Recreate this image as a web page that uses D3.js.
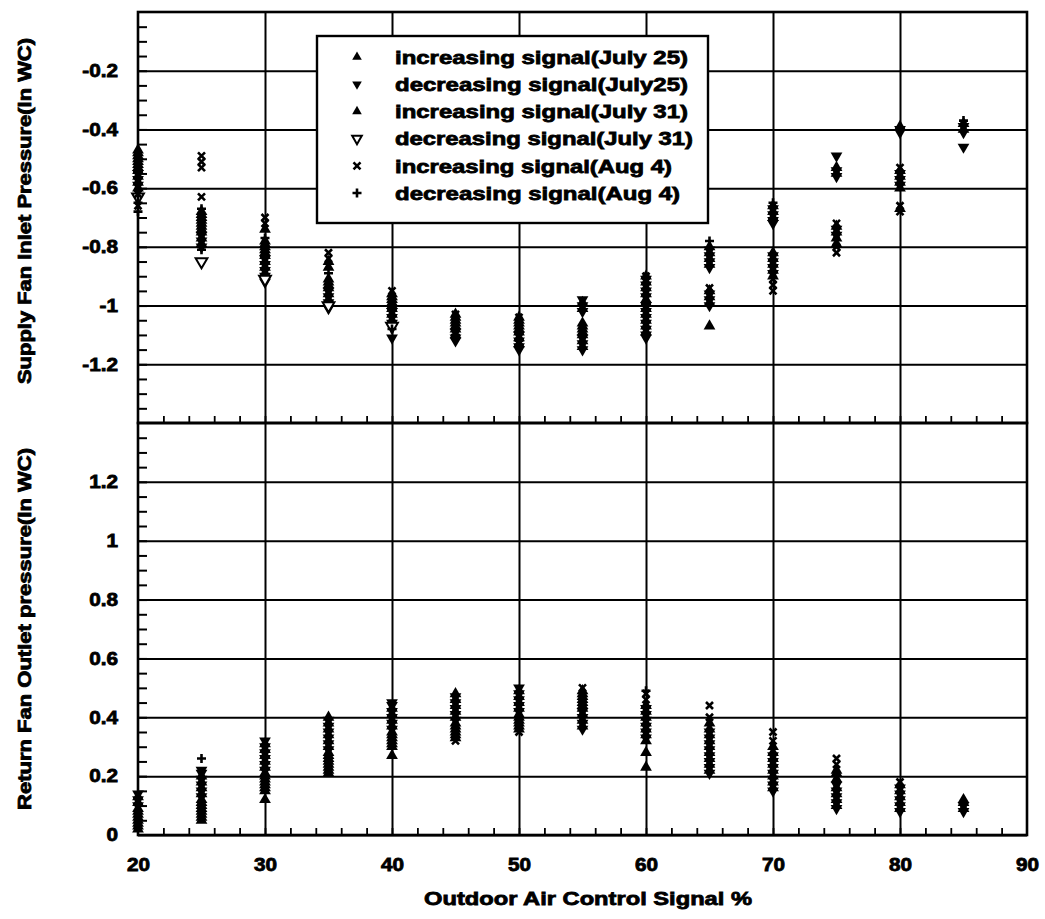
<!DOCTYPE html>
<html>
<head>
<meta charset="utf-8">
<script src="https://cdn.jsdelivr.net/npm/d3@7"></script>
<style>
  body { margin: 0; background: #fff; }
  svg { display: block; }
  text { font-family: Arial, "Liberation Sans", sans-serif; font-weight: bold; fill: #000; }
</style>
</head>
<body>
<script>
// signal levels (x) and the readings per series, one list per signal level
const signals = [20, 25, 30, 35, 40, 45, 50, 55, 60, 65, 70, 75, 80, 85];
const xTicks = [20, 30, 40, 50, 60, 70, 80, 90];
const supplyTicks = [-0.2, -0.4, -0.6, -0.8, -1, -1.2];
const returnTicks = [0, 0.2, 0.4, 0.6, 0.8, 1, 1.2];

const seriesNames = [
  'increasing signal(July 25)',
  'decreasing signal(July25)',
  'increasing signal(July 31)',
  'decreasing signal(July 31)',
  'increasing signal(Aug 4)',
  'decreasing signal(Aug 4)'
];

// Supply fan inlet pressure (upper panel)
const supplyIncJul25 = [[-0.47,-0.49,-0.51,-0.53],[-0.68,-0.70,-0.72,-0.74],[-0.74,-0.78,-0.80,-0.82],[-0.85,-0.87,-0.91,-0.93],[-0.96,-0.98,-1.00],[-1.03,-1.05,-1.07],[-1.04,-1.06,-1.08],[-0.99,-1.01,-1.07,-1.09],[-0.90,-0.92,-0.94,-0.96,-0.98],[-0.80,-0.82,-0.84,-0.86],[-0.66,-0.68,-0.70],[-0.53,-0.55,-0.73,-0.75,-0.77],[-0.39,-0.54,-0.56,-0.58,-0.60],[-0.38,-0.40]];
const supplyDecJul25 = [[-0.55,-0.57,-0.59],[-0.76,-0.78,-0.80],[-0.84,-0.86,-0.88,-0.90,-0.92],[-0.95,-0.97,-0.99,-1.01],[-1.02,-1.04,-1.06,-1.11],[-1.09,-1.11,-1.12],[-1.10,-1.12,-1.14,-1.15],[-0.98,-1.00,-1.02,-1.11,-1.13,-1.15],[-0.91,-0.93,-0.95,-0.97,-1.00,-1.02,-1.04,-1.06,-1.08,-1.10,-1.11],[-0.81,-0.83,-0.85,-0.87,-0.96,-0.98,-1.00],[-0.67,-0.69,-0.71,-0.72,-0.83,-0.85,-0.87,-0.89],[-0.49,-0.54,-0.56,-0.74,-0.76],[-0.40,-0.41,-0.55,-0.57,-0.59],[-0.39,-0.41,-0.46]];
const supplyIncJul31 = [[-0.48,-0.50,-0.52,-0.54,-0.56,-0.58,-0.60],[-0.69,-0.71,-0.73,-0.75,-0.77,-0.79],[-0.79,-0.81,-0.83,-0.85,-0.87,-0.89],[-0.92,-0.94,-0.96,-0.98],[-0.97,-0.99,-1.01,-1.03,-1.05],[-1.04,-1.06,-1.08,-1.10],[-1.05,-1.07,-1.09,-1.11,-1.13],[-1.06,-1.08,-1.10,-1.12,-1.14],[-0.99,-1.01,-1.03,-1.05,-1.07,-1.09],[-0.95,-0.97,-0.99,-1.07],[-0.82,-0.84,-0.86,-0.88,-0.90],[-0.79],[-0.67],[]];
const supplyDecJul31 = [[-0.63],[-0.85],[-0.91],[-1.00],[-1.07],[],[],[],[],[],[],[],[],[]];
const supplyIncAug4 = [[-0.62,-0.66],[-0.49,-0.51,-0.53,-0.63],[-0.70,-0.72],[-0.82,-0.84],[-0.95],[-1.03],[-1.04],[],[-0.90],[-0.94],[-0.91,-0.93,-0.95],[-0.72,-0.80,-0.82],[-0.53,-0.66,-0.68],[]];
const supplyDecAug4 = [[-0.65,-0.68],[-0.67,-0.81],[-0.77],[-0.89],[-1.08],[-1.10],[-1.12],[-1.10],[-0.99],[-0.78],[-0.65],[],[],[-0.37]];

// Return fan outlet pressure (lower panel)
const returnIncJul25 = [[0.02,0.04,0.06,0.08],[0.05,0.07,0.09,0.11],[0.12,0.16,0.18,0.20],[0.21,0.23,0.25,0.27],[0.27,0.30,0.32,0.34],[0.33,0.35,0.37],[0.36,0.38,0.40],[0.44,0.46,0.48],[0.23,0.28],[0.36,0.38],[0.28,0.30],[0.19,0.21,0.22],[],[0.09,0.11,0.12]];
const returnDecJul25 = [[0.10,0.12,0.14],[0.13,0.15,0.17,0.19,0.21,0.22],[0.22,0.24,0.26,0.28,0.30,0.32],[0.29,0.31,0.33,0.35,0.37,0.39],[0.36,0.38,0.40,0.42,0.44,0.45],[0.39,0.41,0.43,0.45,0.47],[0.42,0.44,0.46,0.48,0.50],[0.36,0.38,0.40,0.42],[0.33,0.35,0.37,0.39,0.41,0.43],[0.21,0.23,0.25,0.27,0.29,0.31,0.33,0.35],[0.15,0.17,0.19,0.21,0.23,0.25,0.27],[0.09,0.11,0.13,0.15,0.17],[0.08,0.10,0.12,0.14,0.16],[0.08,0.10]];
const returnIncJul31 = [[0.03,0.05,0.07,0.09,0.11,0.13],[0.06,0.08,0.10,0.12,0.14,0.16,0.18,0.20],[0.15,0.17,0.19,0.21,0.23,0.25,0.27,0.29,0.31],[0.22,0.24,0.26,0.28,0.30,0.32,0.34,0.36,0.38,0.40],[0.31,0.33,0.35,0.37,0.39,0.41,0.43],[0.34,0.36,0.38,0.40,0.42,0.44,0.46,0.48],[0.37,0.39,0.41,0.43,0.45,0.47,0.49],[0.37,0.39,0.41,0.43,0.45,0.47,0.49],[0.32,0.34,0.36,0.38,0.40,0.42,0.44],[0.22,0.24,0.26,0.28,0.30,0.32,0.34],[0.16,0.18,0.20,0.22,0.24,0.26],[0.10,0.12,0.14,0.16],[0.09,0.11,0.13,0.15,0.17],[]];
const returnDecJul31 = [[],[],[],[],[],[],[],[],[],[],[],[],[],[]];
const returnIncAug4 = [[],[],[],[],[],[0.32],[0.35],[0.50],[0.46,0.48],[0.40,0.44],[0.32,0.35],[0.24,0.26],[0.18],[]];
const returnDecAug4 = [[],[0.26],[],[],[],[],[],[],[0.49],[],[],[],[],[]];

const supplySeries = [supplyIncJul25, supplyDecJul25, supplyIncJul31, supplyDecJul31, supplyIncAug4, supplyDecAug4];
const returnSeries = [returnIncJul25, returnDecJul25, returnIncJul31, returnDecJul31, returnIncAug4, returnDecAug4];

const width = 1045, height = 919;
const svg = d3.select('body').append('svg')
  .attr('width', width)
  .attr('height', height);

const x = d3.scaleLinear().domain([20, 90]).range([138, 1027]);
const yTop = d3.scaleLinear().domain([-1.4, 0]).range([423, 12]);
const yBot = d3.scaleLinear().domain([0, 1.4]).range([835, 423]);

const fmt = d => String(+d.toFixed(1)); // plain hyphen minus, like the original

// the scanned original has heavy, wide lettering: thicken with a stroke and stretch
function heavy(sel, stretch) {
  sel.attr('stroke', '#000').attr('stroke-width', 0.8);
  if (stretch) {
    sel.each(function () {
      const w = this.getComputedTextLength();
      d3.select(this).attr('textLength', w * stretch).attr('lengthAdjust', 'spacingAndGlyphs');
    });
  }
}

// marker shapes: 0 up-filled, 1 down-filled, 2 up-filled, 3 down-open, 4 x, 5 +
function marker(sel, i, big) {
  const tri = d3.symbol().type(d3.symbolTriangle).size(big ? 60 : 40)();
  if (i === 0 || i === 2) {
    sel.append('path').attr('d', tri).attr('fill', '#000');
  } else if (i === 1) {
    sel.append('path').attr('d', tri).attr('transform', 'rotate(180)').attr('fill', '#000');
  } else if (i === 3) {
    sel.append('path').attr('d', tri).attr('transform', 'rotate(180)')
      .attr('fill', '#fff').attr('stroke', '#000').attr('stroke-width', 2);
  } else if (i === 4) {
    sel.append('path').attr('d', 'M-3.5,-3.5L3.5,3.5M-3.5,3.5L3.5,-3.5')
      .attr('stroke', '#000').attr('stroke-width', 2.6);
  } else {
    sel.append('path').attr('d', 'M-4.5,0L4.5,0M0,-4.5L0,4.5')
      .attr('stroke', '#000').attr('stroke-width', 2.6);
  }
}

function styleText(a, size) {
  a.selectAll('text')
    .attr('font-size', size)
    .attr('font-family', 'Arial, "Liberation Sans", sans-serif')
    .attr('fill', '#000')
    .call(t => heavy(t, 1.15));
}

function panel(y, yMin, yMax, majors, series, showX) {
  const g = svg.append('g');
  const x0 = x.range()[0], x1 = x.range()[1];

  // horizontal grid
  g.append('g')
    .attr('transform', `translate(${x0},0)`)
    .call(d3.axisLeft(y).tickValues(majors).tickSize(-(x1 - x0)).tickFormat(''))
    .call(a => a.select('.domain').remove())
    .call(a => a.selectAll('line').attr('stroke', '#000').attr('stroke-width', 2));

  // vertical grid
  g.append('g')
    .attr('transform', `translate(0,${y.range()[0]})`)
    .call(d3.axisBottom(x).tickValues([30, 40, 50, 60, 70, 80]).tickSize(-(y.range()[0] - y.range()[1])).tickFormat(''))
    .call(a => a.select('.domain').remove())
    .call(a => a.selectAll('line').attr('stroke', '#000').attr('stroke-width', 2));

  // minor ticks on y
  const yMinor = d3.range(Math.round(yMin * 20) + 1, Math.round(yMax * 20)).map(v => v / 20);
  g.append('g')
    .attr('transform', `translate(${x0},0)`)
    .call(d3.axisLeft(y).tickValues(yMinor).tickSize(-9).tickFormat(''))
    .call(a => a.select('.domain').remove())
    .call(a => a.selectAll('line').attr('stroke', '#000').attr('stroke-width', 2));

  // minor ticks on x
  g.append('g')
    .attr('transform', `translate(0,${y.range()[0]})`)
    .call(d3.axisBottom(x).tickValues(d3.range(22, 90, 2)).tickSize(-7).tickFormat(''))
    .call(a => a.select('.domain').remove())
    .call(a => a.selectAll('line').attr('stroke', '#000').attr('stroke-width', 1.8));

  // tick labels
  g.append('g')
    .attr('transform', `translate(${x0},0)`)
    .call(d3.axisLeft(y).tickValues(majors).tickSize(0).tickPadding(20).tickFormat(fmt))
    .call(a => a.select('.domain').remove())
    .call(a => styleText(a, 18));

  if (showX) {
    g.append('g')
      .attr('transform', `translate(0,${y.range()[0]})`)
      .call(d3.axisBottom(x).tickValues(xTicks).tickSize(0).tickPadding(23).tickFormat(d3.format('d')))
      .call(a => a.select('.domain').remove())
      .call(a => styleText(a, 18));
  }

  // points
  series.forEach((s, si) => {
    const pts = [];
    s.forEach((vals, k) => vals.forEach(v => pts.push([signals[k], v])));
    g.append('g').selectAll('g')
      .data(pts)
      .join('g')
      .attr('transform', d => `translate(${x(d[0])},${y(d[1])})`)
      .each(function () { marker(d3.select(this), si, true); });
  });

  // frame
  g.append('rect')
    .attr('x', x0).attr('y', y.range()[1])
    .attr('width', x1 - x0).attr('height', y.range()[0] - y.range()[1])
    .attr('fill', 'none').attr('stroke', '#000').attr('stroke-width', 2.6);
}

panel(yTop, -1.4, 0, supplyTicks, supplySeries, false);
panel(yBot, 0, 1.4, returnTicks, returnSeries, true);

// legend
const legendWidths = [293, 293, 293, 298, 277, 285];
const lg = svg.append('g');
lg.append('rect')
  .attr('x', 317).attr('y', 36).attr('width', 391).attr('height', 187)
  .attr('fill', '#fff').attr('stroke', '#000').attr('stroke-width', 2.4);
seriesNames.forEach((name, i) => {
  const row = lg.append('g').attr('transform', `translate(0,${57 + i * 27.2})`);
  marker(row.append('g').attr('transform', 'translate(357,0)'), i, false);
  row.append('text')
    .attr('x', 395).attr('dy', '0.36em')
    .attr('font-size', 19)
    .attr('textLength', legendWidths[i])
    .attr('lengthAdjust', 'spacingAndGlyphs')
    .text(name)
    .call(heavy);
});

// axis titles
svg.append('text')
  .attr('transform', 'translate(31,211) rotate(-90)')
  .attr('text-anchor', 'middle')
  .attr('font-size', 18)
  .attr('textLength', 346)
  .attr('lengthAdjust', 'spacingAndGlyphs')
  .text('Supply Fan Inlet Pressure(In WC)')
  .call(heavy);
svg.append('text')
  .attr('transform', 'translate(31,629) rotate(-90)')
  .attr('text-anchor', 'middle')
  .attr('font-size', 18)
  .attr('textLength', 362)
  .attr('lengthAdjust', 'spacingAndGlyphs')
  .text('Return Fan Outlet pressure(In WC)')
  .call(heavy);
svg.append('text')
  .attr('x', 588).attr('y', 905)
  .attr('text-anchor', 'middle')
  .attr('font-size', 19)
  .attr('textLength', 328)
  .attr('lengthAdjust', 'spacingAndGlyphs')
  .text('Outdoor Air Control Signal %')
  .call(heavy);
</script>
</body>
</html>
